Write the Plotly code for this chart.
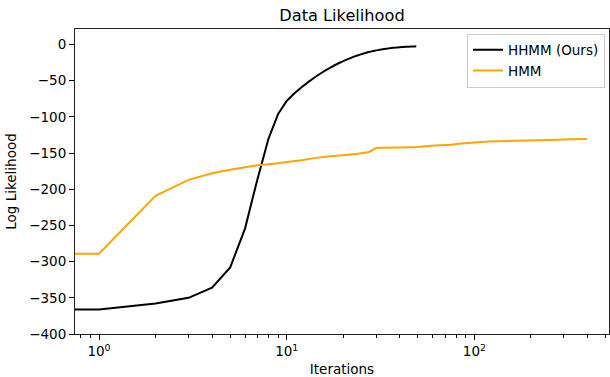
import plotly.graph_objects as go

# ---- data ----
hhmm_iter = list(range(0, 50))
hhmm_ll = [-366, -366, -358, -350, -336, -308, -254, -185, -130, -96,
           -78, -67.5, -59, -52, -46, -40.8, -36.2, -32.2, -28.7, -25.6,
           -22.9, -20.5, -18.4, -16.5, -14.8, -13.3, -12.0, -10.85, -9.85, -8.95,
           -8.15, -7.45, -6.83, -6.28, -5.79, -5.36, -4.98, -4.64, -4.34, -4.07,
           -3.83, -3.62, -3.43, -3.26, -3.11, -2.98, -2.86, -2.75, -2.65, -2.56]

hmm_iter = [0, 1, 2, 3, 4, 5, 6, 7, 8, 9, 10, 12, 14, 17, 20, 24, 27, 28, 29, 30,
            32, 40, 50, 55, 62, 75, 85, 100, 120, 165, 250, 330, 399]
hmm_ll = [-289, -289, -209, -187, -178, -173, -169.5, -167, -165.5, -164, -162.5,
          -160, -157, -154.5, -153, -151, -149, -147.5, -145, -143,
          -142.5, -142.2, -141.7, -140.5, -139.5, -138.5, -136.8, -135.5, -134,
          -133, -132, -131, -130.5]

x_tickvals = [1, 10, 100]
x_ticktext = ["10<sup>0</sup>", "10<sup>1</sup>", "10<sup>2</sup>"]
x_minor = [0.8, 0.9] + [m * d for d in (1, 10, 100) for m in range(2, 10)]
y_tickvals = [0, -50, -100, -150, -200, -250, -300, -350, -400]


def clip_log(xs):
    # emulate matplotlib's clipping of non-positive values on a log axis
    return [x if x > 0 else 1e-3 for x in xs]


FONT = "DejaVu Sans"

fig = go.Figure()
fig.add_trace(go.Scatter(x=clip_log(hhmm_iter), y=hhmm_ll, mode="lines",
                         name="HHMM (Ours)",
                         line=dict(color="black", width=2, simplify=False)))
fig.add_trace(go.Scatter(x=clip_log(hmm_iter), y=hmm_ll, mode="lines",
                         name="HMM",
                         line=dict(color="#FFA500", width=2, simplify=False)))

fig.update_layout(
    width=610, height=377,
    margin=dict(l=75, r=1, t=28.5, b=43),
    paper_bgcolor="white", plot_bgcolor="white",
    font=dict(family=FONT, size=13.5, color="black"),
    title=dict(text="Data Likelihood", x=(75 + 609) / 2 / 610, xanchor="center",
               y=1 - 15 / 377, yanchor="middle", yref="container",
               font=dict(size=16.2, family=FONT)),
    legend=dict(x=0.9925, xanchor="right", y=0.985, yanchor="top",
                bgcolor="rgba(255,255,255,0.8)", bordercolor="#cccccc", borderwidth=1,
                font=dict(size=13.5, family=FONT), tracegroupgap=0),
    showlegend=True,
)

fig.update_xaxes(
    type="log", range=[-0.128, 2.717],
    tickvals=x_tickvals, ticktext=x_ticktext,
    ticks="outside", ticklen=5, tickwidth=1, tickcolor="black",
    minor=dict(tickvals=x_minor, ticks="outside", ticklen=3, tickwidth=0.8, tickcolor="black"),
    showgrid=False, zeroline=False,
    showline=True, linecolor="#222", linewidth=1, mirror=True,
    title=dict(text="Iterations", standoff=6, font=dict(size=13.5, family=FONT)),
)
fig.update_yaxes(
    range=[-400, 21.4],
    tickvals=y_tickvals,
    ticks="outside", ticklen=5, tickwidth=1, tickcolor="black",
    showgrid=False, zeroline=False,
    showline=True, linecolor="#222", linewidth=1, mirror=True,
    title=dict(text="Log Likelihood", standoff=9, font=dict(size=13.5, family=FONT)),
)

fig.write_html("out.html",
               config={"displayModeBar": False},
               post_script="document.body.style.margin='0';document.body.style.overflow='hidden';")
